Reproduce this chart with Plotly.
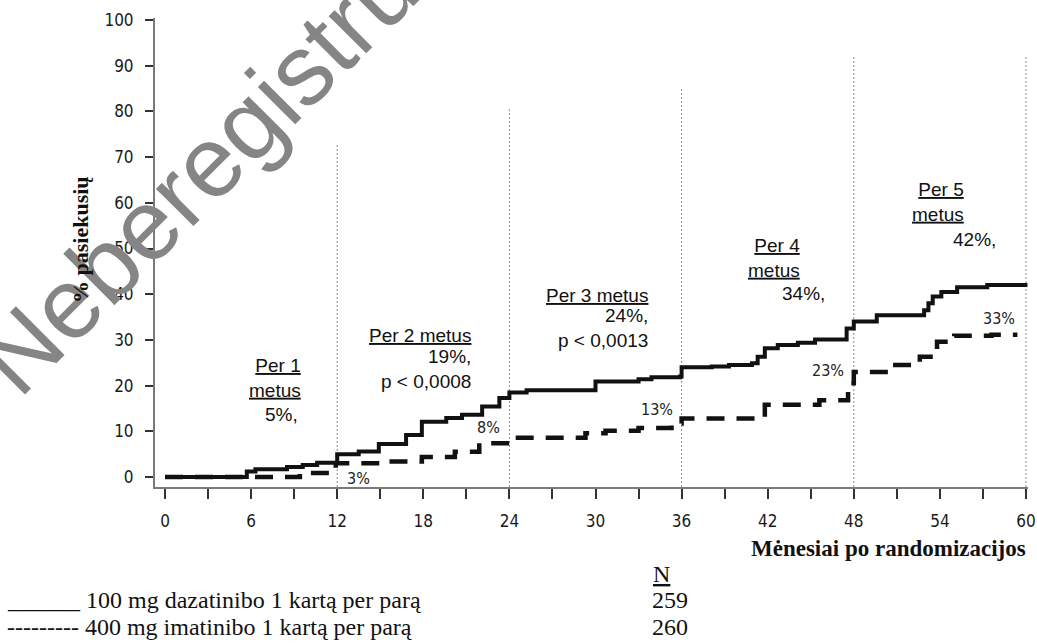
import plotly.graph_objects as go

# Cumulative share of patients reaching the response (%), by month since randomisation
dasatinib_months = [0, 5.7, 6.3, 8.5, 9.6, 10.6, 12.0, 13.5, 14.9, 16.8, 17.9, 19.6, 20.7,
                    22.1, 23.3, 24.0, 25.2, 30.0, 33.0, 33.9, 35.9, 36.0, 38.1, 39.3, 40.9,
                    41.3, 41.8, 42.7, 44.1, 45.3, 47.5, 48.0, 49.6, 52.9, 53.2, 53.5, 54.1,
                    55.2, 57.3, 60.1]
dasatinib_pct = [0, 1.2, 1.7, 2.2, 2.6, 3.1, 5.0, 5.6, 7.2, 9.2, 12.1, 12.9, 13.6,
                 15.4, 17.3, 18.5, 19.0, 20.9, 21.4, 21.8, 22.0, 24.0, 24.2, 24.5, 24.9,
                 26.3, 28.2, 28.9, 29.4, 30.1, 32.5, 34.0, 35.4, 36.5, 38.0, 39.5, 40.5,
                 41.5, 42.0, 42.0]

imatinib_months = [0, 9.4, 11.8, 11.9, 15.5, 17.9, 20.2, 21.9, 24.0, 29.3, 30.7, 33.0,
                   35.3, 36.0, 41.8, 45.6, 47.6, 48.0, 50.6, 52.6, 53.8, 55.0, 57.6, 59.4]
imatinib_pct = [0, 0.9, 2.0, 3.0, 3.4, 4.4, 5.5, 7.4, 8.6, 9.6, 10.1, 10.7,
                11.7, 12.8, 15.8, 16.8, 20.5, 23.0, 24.5, 26.3, 29.6, 30.9, 31.1, 31.1]

# Yearly estimates
milestone_months = [12, 24, 36, 48, 60]
milestone_years = [1, 2, 3, 4, 5]
dasatinib_milestone = [5, 19, 24, 34, 42]
imatinib_milestone = [3, 8, 13, 23, 33]
p_values = [None, "0,0008", "0,0013", None, None]

# Group legend
group_labels = ["100 mg dazatinibo 1 kartą per parą", "400 mg imatinibo 1 kartą per parą"]
group_n = [259, 260]

x_ticks = list(range(0, 61, 3))
x_ticktext = [str(v) if v % 6 == 0 else "" for v in x_ticks]
y_ticks = list(range(0, 101, 10))

# ---- geometry helpers (pixel -> data / paper) ----
X0_PX, X_PER_MONTH = 165.0, (1026.0 - 165.0) / 60
Y0_PX, Y_PER_PCT = 477.0, 4.57
PLOT_L, PLOT_R, PLOT_T, PLOT_B = 155, 1028, 18, 487


def dx(px):
    return (px - X0_PX) / X_PER_MONTH


def dy(py):
    return (Y0_PX - py) / Y_PER_PCT


def px_(px):
    return (px - PLOT_L) / (PLOT_R - PLOT_L)


def py_(py):
    return (PLOT_B - py) / (PLOT_B - PLOT_T)


x_range = [dx(PLOT_L), dx(PLOT_R)]
y_range = [dy(PLOT_B), dy(PLOT_T)]

INK = "#111111"
SANS = "Liberation Sans, Arial, sans-serif"
NARROW = "DejaVu Sans Condensed, Liberation Sans Narrow, Arial Narrow, Liberation Sans, sans-serif"
SERIF = "Liberation Serif, Times New Roman, serif"

fig = go.Figure()

fig.add_trace(go.Scatter(
    x=imatinib_months, y=imatinib_pct, mode="lines", line_shape="hv",
    line=dict(color=INK, width=4.5, dash="18px,12px"), hoverinfo="skip", showlegend=False))
fig.add_trace(go.Scatter(
    x=dasatinib_months, y=dasatinib_pct, mode="lines", line_shape="hv",
    line=dict(color=INK, width=4), hoverinfo="skip", showlegend=False))

# dotted yearly reference lines
line_tops = [73.0, 80.5, 85.0, 92.0, 92.0]
shapes = []
for m, top in zip(milestone_months, line_tops):
    shapes.append(dict(type="line", xref="x", yref="y", x0=m, x1=m, y0=y_range[0], y1=top,
                       line=dict(color="#8a8a8a", width=1, dash="2px,2px"), layer="below"))

annotations = []

# watermark
annotations.append(dict(text="Neberegistruotas", xref="paper", yref="paper",
                        x=px_(264), y=py_(106), xanchor="center", yanchor="middle",
                        showarrow=False, textangle=-45,
                        font=dict(family=SANS, size=100, color="#858585")))

# yearly text blocks (right-aligned)
head_pos = [(303, 378), (473, 335), (650, 295), (802, 257.5), (966, 201.5)]
value_pos = [(300, 414), (473, 369), (650, 328), (827, 293), (998, 239)]
for i, yr in enumerate(milestone_years):
    if i in (1, 2):
        head = f"<u>Per {yr} metus</u>"
    else:
        head = f"<u>Per {yr}</u><br><u>metus</u>"
    hx, hy = head_pos[i]
    annotations.append(dict(text=head, x=dx(hx), y=dy(hy), xref="x", yref="y",
                            xanchor="right", yanchor="middle", align="right", showarrow=False,
                            font=dict(family=SANS, size=19, color=INK)))
    val = f"{dasatinib_milestone[i]}%,"
    if p_values[i]:
        val += f"<br>p < {p_values[i]}"
    vx, vy = value_pos[i]
    annotations.append(dict(text=val, x=dx(vx), y=dy(vy), xref="x", yref="y",
                            xanchor="right", yanchor="middle", align="right", showarrow=False,
                            font=dict(family=SANS, size=19, color=INK)))

# imatinib yearly values next to the dashed curve
small_pos = [(358, 478), (488, 427), (657, 409), (828, 370), (999, 318)]
for v, (sx, sy) in zip(imatinib_milestone, small_pos):
    annotations.append(dict(text=f"{v}%", x=dx(sx), y=dy(sy), xref="x", yref="y",
                            xanchor="center", yanchor="middle", showarrow=False,
                            font=dict(family=NARROW, size=16, color="#222222")))

# axis titles
annotations.append(dict(text="<b>% pasiekusių</b>", xref="paper", yref="paper",
                        x=px_(80), y=py_(240), xanchor="center", yanchor="middle",
                        textangle=-90, showarrow=False,
                        font=dict(family=SERIF, size=22, color=INK)))
annotations.append(dict(text="<b>Mėnesiai po randomizacijos</b>", xref="paper", yref="paper",
                        x=px_(1028), y=py_(548), xanchor="right", yanchor="middle",
                        showarrow=False, font=dict(family=SERIF, size=23, color=INK)))

# group legend
annotations.append(dict(text="<u>N</u>", xref="paper", yref="paper", x=px_(651), y=py_(574),
                        xanchor="left", yanchor="middle", showarrow=False,
                        font=dict(family=SERIF, size=24, color=INK)))
prefixes = ["______ ", "--------- "]
legend_y = [600, 627]
for lab, n, pre, ly in zip(group_labels, group_n, prefixes, legend_y):
    annotations.append(dict(text=pre + lab, xref="paper", yref="paper", x=px_(5), y=py_(ly),
                            xanchor="left", yanchor="middle", showarrow=False,
                            font=dict(family=SERIF, size=24, color=INK)))
    annotations.append(dict(text=str(n), xref="paper", yref="paper", x=px_(650), y=py_(ly),
                            xanchor="left", yanchor="middle", showarrow=False,
                            font=dict(family=SERIF, size=24, color=INK)))

fig.update_layout(
    width=1037, height=643,
    margin=dict(l=PLOT_L, r=1037 - PLOT_R, t=PLOT_T, b=643 - PLOT_B, autoexpand=False),
    paper_bgcolor="white", plot_bgcolor="white",
    shapes=shapes, annotations=annotations,
    xaxis=dict(range=x_range, tickmode="array", tickvals=x_ticks, ticktext=x_ticktext,
               automargin=False,
               showgrid=False, zeroline=False, showline=True, linecolor="#7a7a7a",
               linewidth=2, ticks="outside", ticklen=10, tickwidth=2, tickcolor="#333333",
               ticklabelstandoff=8, ticklabeloverflow="allow",
               tickfont=dict(family=NARROW, size=17, color="#1a1a1a")),
    yaxis=dict(range=y_range, tickmode="array", tickvals=y_ticks,
               automargin=False,
               showgrid=False, zeroline=False, showline=True, linecolor="#7a7a7a",
               linewidth=2, ticks="outside", ticklen=8, tickwidth=2, tickcolor="#333333",
               ticklabelstandoff=8,
               tickfont=dict(family=NARROW, size=17, color="#1a1a1a")),
)

fig.write_html("out.html")
